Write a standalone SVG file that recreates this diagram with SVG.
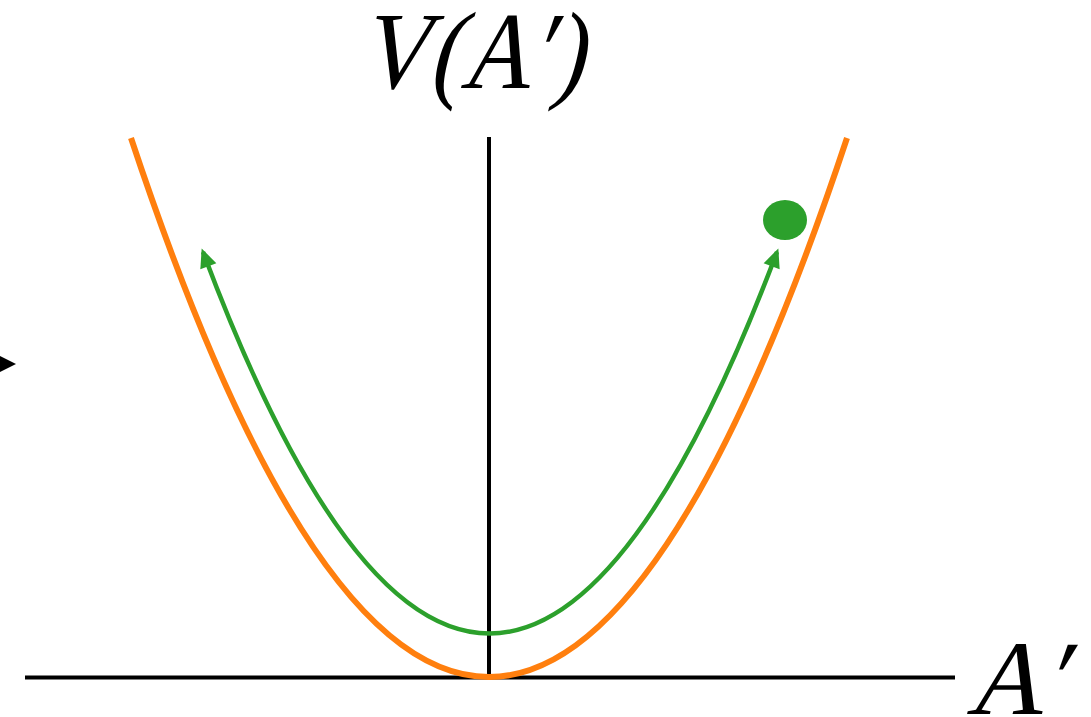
<svg xmlns="http://www.w3.org/2000/svg" width="1091" height="717" viewBox="0 0 1091 717">
<style>
.lbl{font-family:"Liberation Serif","Times New Roman",serif;fill:#000}
.axis{stroke:#000;stroke-width:4;fill:none}
</style>
<defs>
<marker id="gh" viewBox="0 0 10 10" refX="8" refY="5" markerWidth="21" markerHeight="19" markerUnits="userSpaceOnUse" orient="auto-start-reverse">
<path d="M0,0.5 L10,5 L0,9.5 Z" fill="#2ca02c"/>
</marker>
</defs>
<rect width="1091" height="717" fill="#fff"/>
<g id="axes">
<line class="axis" x1="25" y1="677.5" x2="955" y2="677.5"/>
<line class="axis" x1="489" y1="137" x2="489" y2="677"/>
<polygon points="-6,353 16,364 -6,375" fill="#000"/>
</g>
<g id="potential">
<path d="M131,138 Q489,1216 847,138" fill="none" stroke="#ff7f0e" stroke-width="6"/>
</g>
<g id="connectors">
<path d="M203,252 Q489,1015 777,252" fill="none" stroke="#2ca02c" stroke-width="4.5" marker-start="url(#gh)" marker-end="url(#gh)"/>
</g>
<g id="ball">
<ellipse cx="785" cy="220" rx="22" ry="20" fill="#2ca02c"/>
</g>
<g id="labels">
<g transform="translate(358,88) skewX(-14)">
<text class="lbl" x="0" y="0" font-size="110" textLength="225" lengthAdjust="spacingAndGlyphs">V(A′)</text>
</g>
<g transform="translate(966,714) skewX(-14)">
<text class="lbl" x="0" y="0" font-size="106" textLength="100" lengthAdjust="spacingAndGlyphs">A′</text>
</g>
</g>
</svg>
